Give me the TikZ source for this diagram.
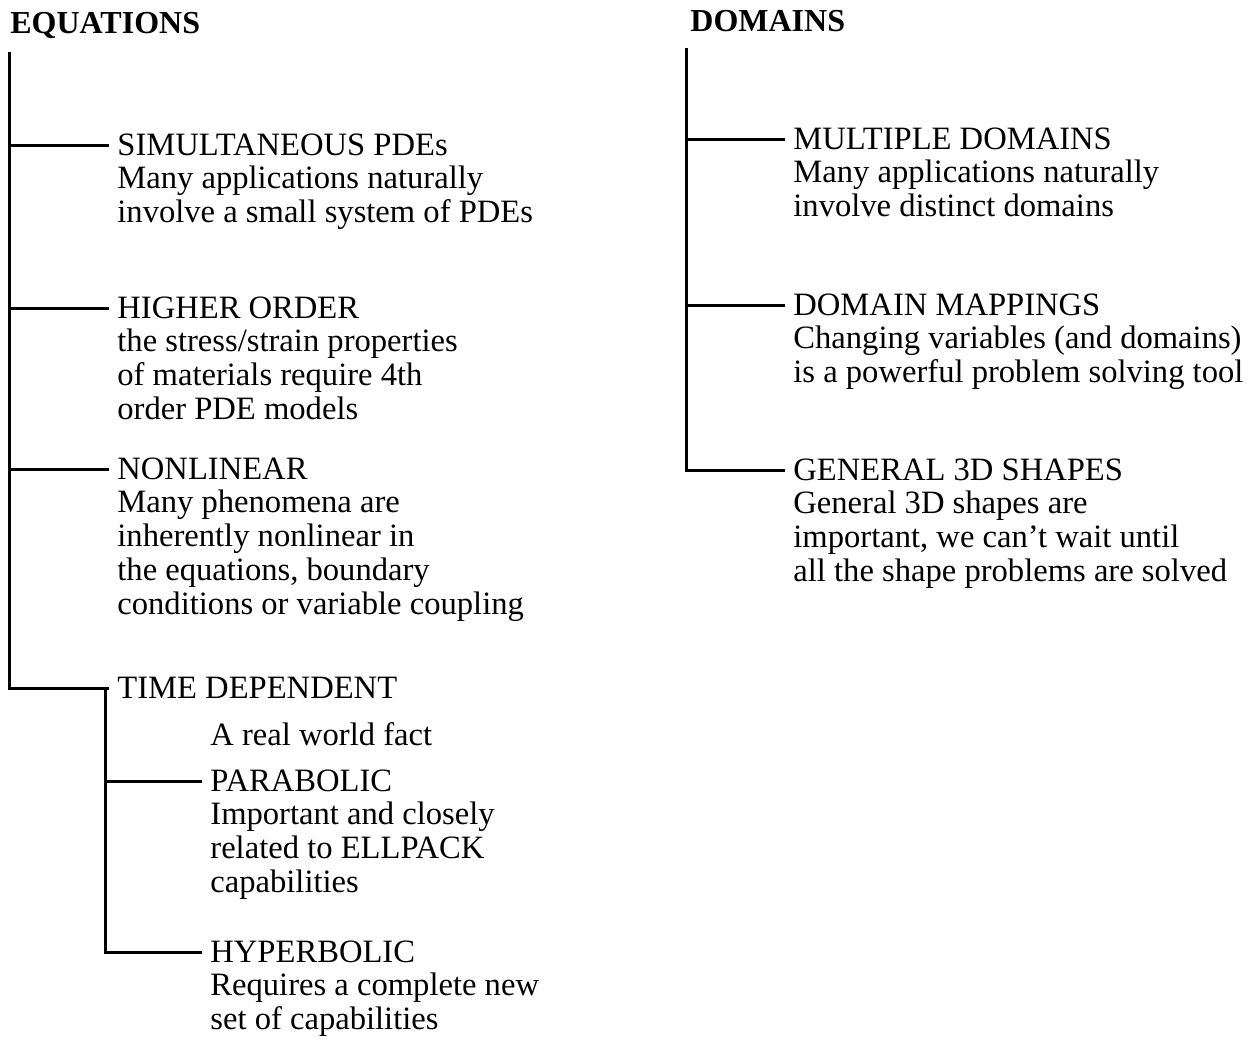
\documentclass[tikz,border=0pt]{standalone}
\usepackage{fontspec}
\setmainfont{Liberation Serif}
\usepackage{tikz}
\usetikzlibrary{positioning}

\begin{document}
\begin{tikzpicture}[
  x=0.5pt,y=-0.5pt,
  every node/.style={font=\fontsize{16.3}{17}\selectfont,inner sep=0pt},
  title/.style={font=\fontsize{16}{17}\selectfont\bfseries,anchor=base west},
  head/.style={anchor=west,text height=12.2pt,text depth=1.4pt},
  desc/.style={align=left,execute at begin node=\strut},
  branch/.style={line width=1.5pt,shorten >=4pt}
]
\useasboundingbox (0,0) rectangle (1258,1041);

\node[title] (eq) at (10,33) {EQUATIONS};
\node[title] (dom) at (690,31) {DOMAINS};
\coordinate (eqtop) at (9,52);
\coordinate (domtop) at (686,48);

\node[head] (simul) at (117,145) {SIMULTANEOUS PDEs};
\node[desc,below right=4.9pt and 0pt of simul.base west] (simuld) {Many applications naturally\\involve a small system of PDEs};
\node[head] (higher) at (117,308) {HIGHER ORDER};
\node[desc,below right=4.9pt and 0pt of higher.base west] (higherd) {the stress/strain properties\\of materials require 4th\\order PDE models};
\node[head] (nonlin) at (117,469) {NONLINEAR};
\node[desc,below right=4.9pt and 0pt of nonlin.base west] (nonlind) {Many phenomena are\\inherently nonlinear in\\the equations, boundary\\conditions or variable coupling};
\node[head] (timedep) at (117,688) {TIME DEPENDENT};
\node[anchor=base west] (fact) at (210,745) {A real world fact};
\node[head] (parab) at (210,781) {PARABOLIC};
\node[desc,below right=4.9pt and 0pt of parab.base west] (parabd) {Important and closely\\related to ELLPACK\\capabilities};
\node[head] (hyper) at (210,952) {HYPERBOLIC};
\node[desc,below right=4.9pt and 0pt of hyper.base west] (hyperd) {Requires a complete new\\set of capabilities};

\node[head] (multi) at (793,139) {MULTIPLE DOMAINS};
\node[desc,below right=4.9pt and 0pt of multi.base west] (multid) {Many applications naturally\\involve distinct domains};
\node[head] (dmap) at (793,305) {DOMAIN MAPPINGS};
\node[desc,below right=4.9pt and 0pt of dmap.base west] (dmapd) {Changing variables (and domains)\\is a powerful problem solving tool};
\node[head] (general) at (793,470) {GENERAL 3D SHAPES};
\node[desc,below right=4.9pt and 0pt of general.base west] (generald) {General 3D shapes are\\important, we can't wait until\\all the shape problems are solved};

\draw[branch] (eqtop) |- (timedep.west);
\draw[branch] (eqtop |- simul.west) -- (simul.west);
\draw[branch] (eqtop |- higher.west) -- (higher.west);
\draw[branch] (eqtop |- nonlin.west) -- (nonlin.west);
\coordinate (subtop) at ([xshift=-6pt]timedep.west);
\draw[branch] (subtop) |- (hyper.west);
\draw[branch] (subtop |- parab.west) -- (parab.west);

\draw[branch] (domtop) |- (general.west);
\draw[branch] (domtop |- multi.west) -- (multi.west);
\draw[branch] (domtop |- dmap.west) -- (dmap.west);
\end{tikzpicture}
\end{document}
